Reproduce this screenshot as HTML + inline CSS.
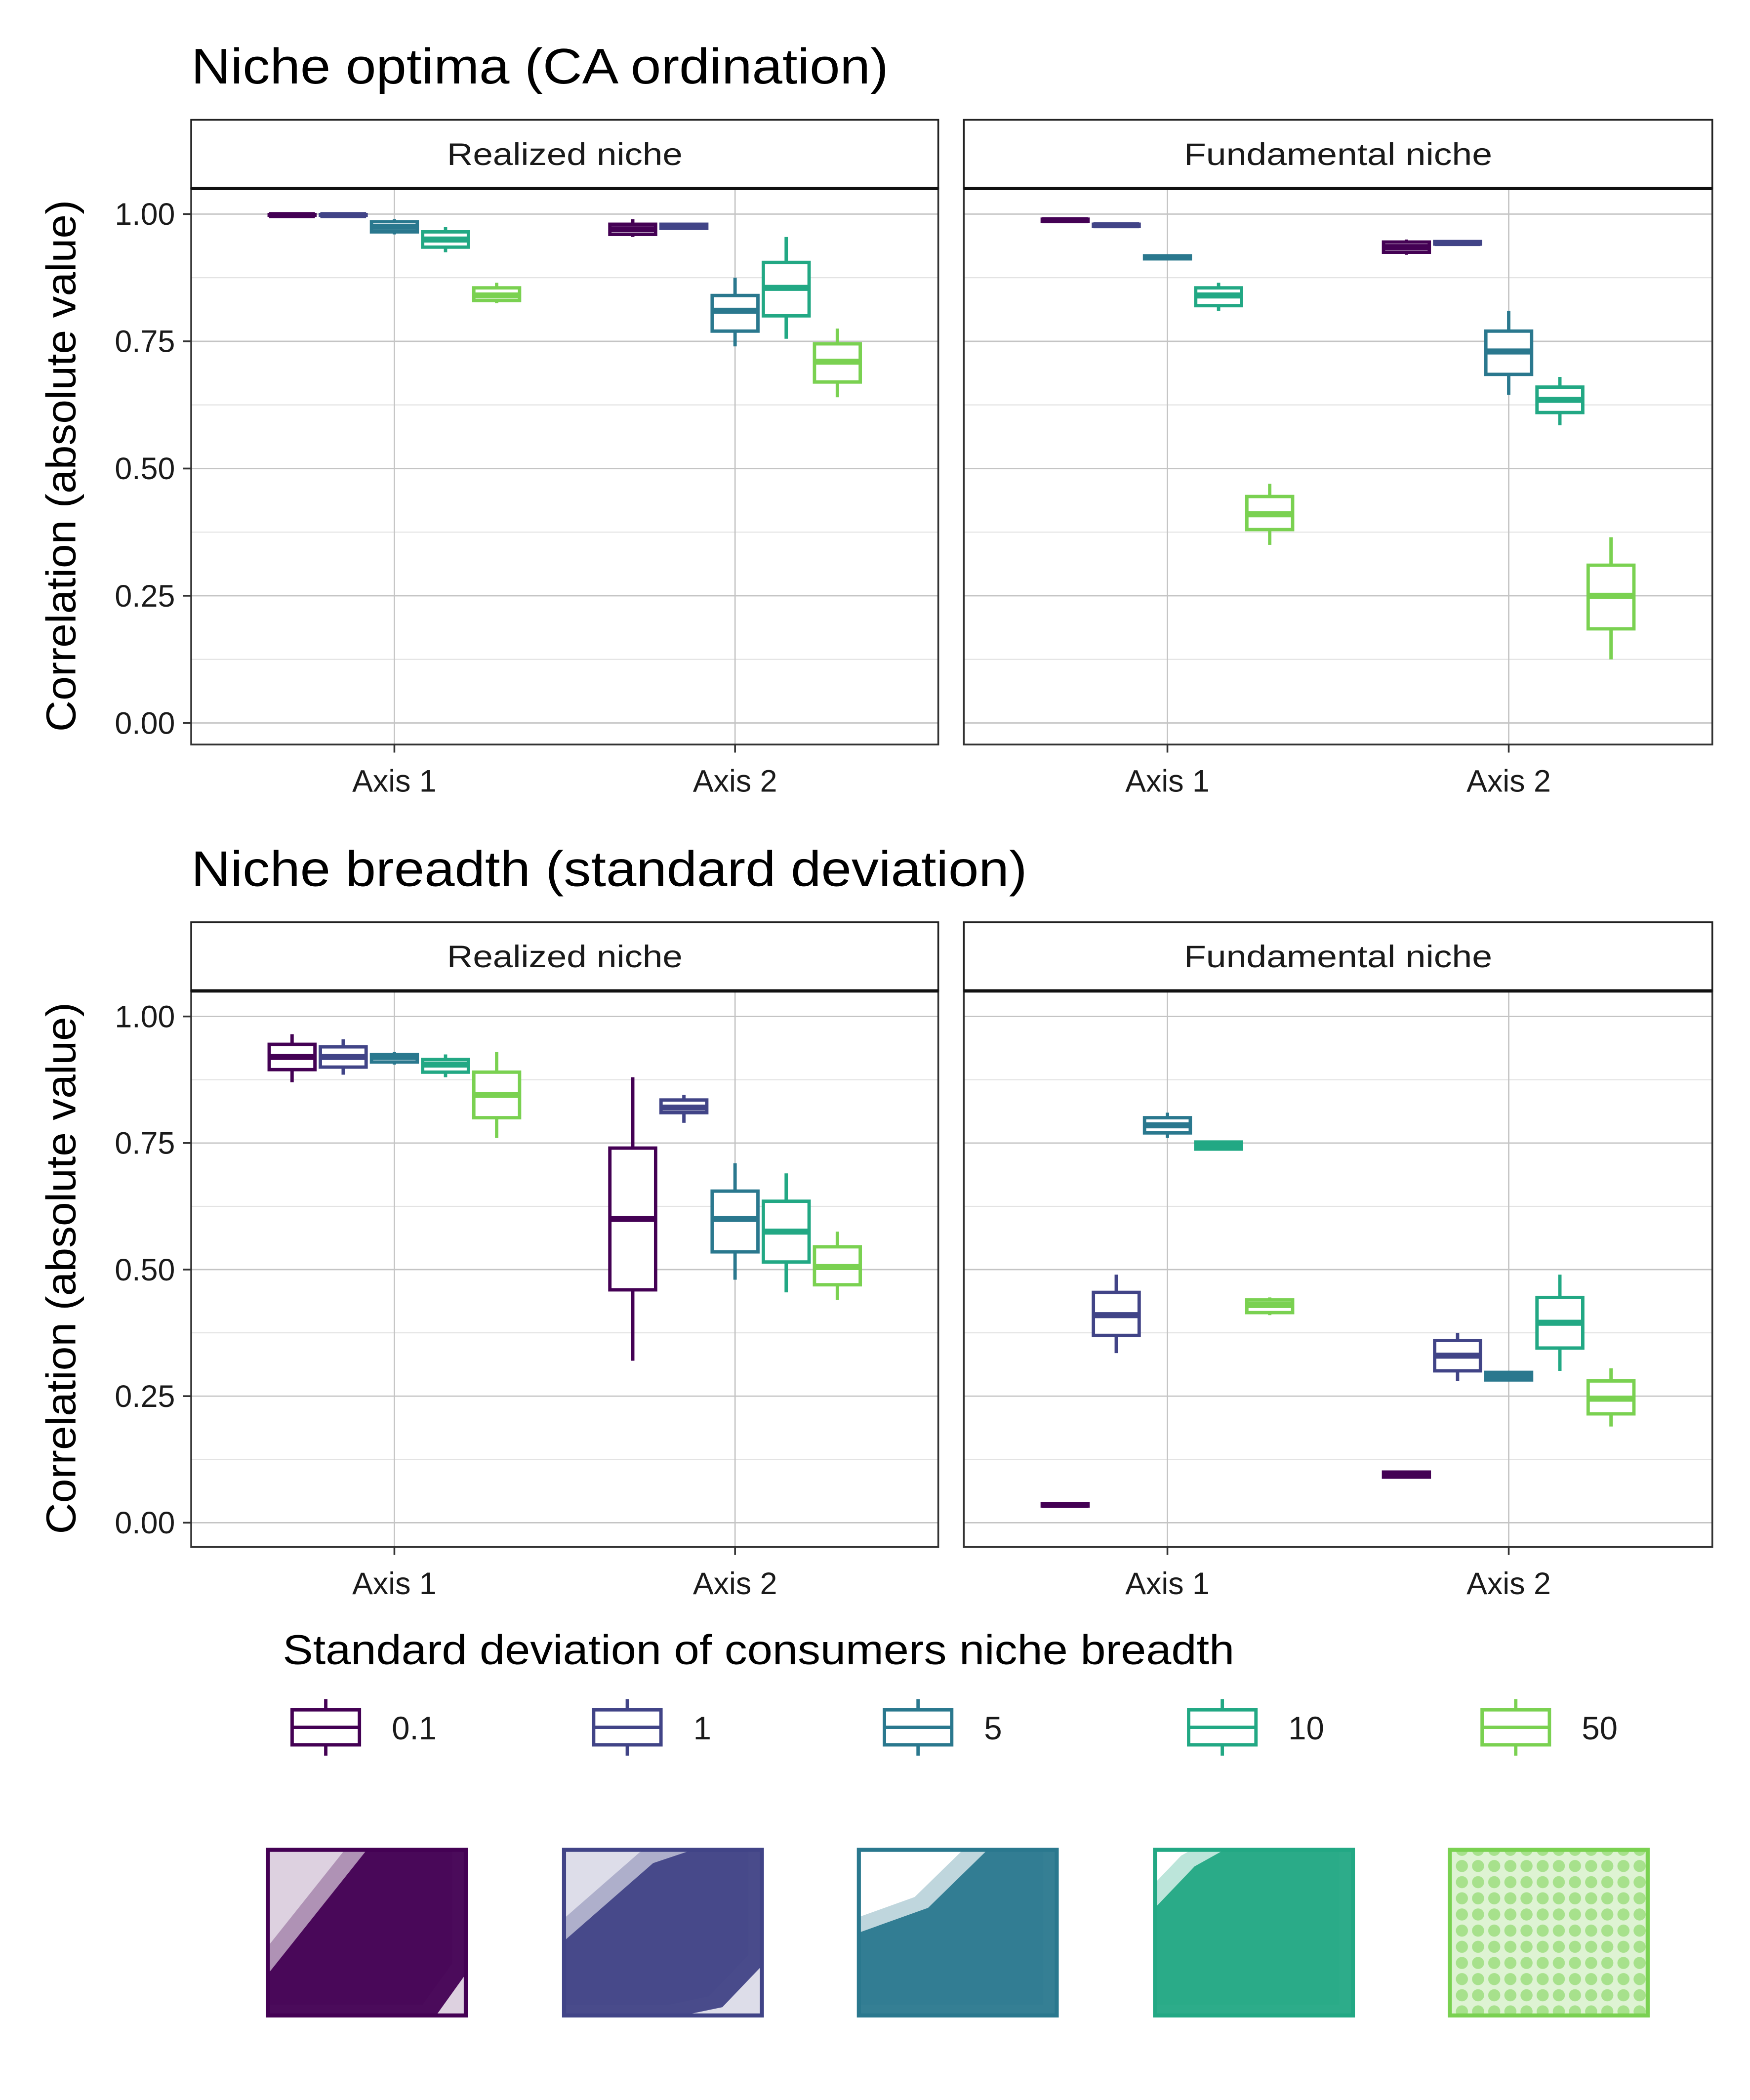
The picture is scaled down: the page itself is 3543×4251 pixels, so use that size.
<!DOCTYPE html>
<html><head><meta charset="utf-8"><style>html,body{margin:0;padding:0;background:#fff}svg{display:block}text{font-family:"Liberation Sans",Arial,sans-serif}</style></head>
<body>
<svg id="chart" xmlns="http://www.w3.org/2000/svg" width="3543" height="4251" viewBox="0 0 1300 1559.8">
<defs>
<pattern id="dots50" x="0" y="0" width="12" height="12" patternUnits="userSpaceOnUse"><circle cx="6" cy="6" r="4.5" fill="#7AD151" opacity="0.55"/></pattern>
</defs>
<rect width="1300" height="1560" fill="#fff"/>
</svg>
<script>
const categories = ["Axis 1","Axis 2"];
const groups = ["0.1","1","5","10","50"];
const colors = ["#440154","#414487","#2A788E","#22A884","#7AD151"];
const yTicks = [0,0.25,0.5,0.75,1.0];
const yTickLabels = ["0.00","0.25","0.50","0.75","1.00"];
// each: [lowWhisker,q1,median,q3,highWhisker] per group, per axis
const optimaRealizedAxis1 = [[.997,.998,.998,.999,1],[.997,.998,.998,.999,1],[.96,.965,.975,.985,.99],[.925,.935,.95,.965,.975],[.825,.83,.84,.855,.865]];
const optimaRealizedAxis2 = [[.955,.96,.97,.98,.99],[.97,.972,.975,.98,.982],[.74,.77,.81,.84,.875],[.755,.8,.855,.905,.955],[.64,.67,.71,.745,.775]];
const optimaFundAxis1 = [[.985,.986,.988,.99,.991],[.975,.976,.978,.98,.981],[.91,.912,.915,.918,.92],[.81,.82,.84,.855,.865],[.35,.38,.41,.445,.47]];
const optimaFundAxis2 = [[.92,.925,.935,.945,.95],[.94,.941,.943,.946,.947],[.645,.685,.73,.77,.81],[.585,.61,.635,.66,.68],[.125,.185,.25,.31,.365]];
const breadthRealizedAxis1 = [[.87,.895,.92,.945,.965],[.885,.9,.92,.94,.955],[.905,.91,.92,.925,.93],[.88,.89,.905,.915,.925],[.76,.8,.845,.89,.93]];
const breadthRealizedAxis2 = [[.32,.46,.6,.74,.88],[.79,.81,.82,.835,.845],[.48,.535,.6,.655,.71],[.455,.515,.575,.635,.69],[.44,.47,.505,.545,.575]];
const breadthFundAxis1 = [[.032,.033,.035,.038,.04],[.335,.37,.41,.455,.49],[.76,.77,.785,.8,.81],[.735,.738,.745,.752,.755],[.41,.415,.43,.44,.445]];
const breadthFundAxis2 = [[.09,.09,.095,.1,.1],[.28,.3,.33,.36,.375],[.28,.282,.29,.297,.3],[.3,.345,.395,.445,.49],[.19,.215,.245,.28,.305]];

const svg = document.getElementById('chart');
const NS = "http://www.w3.org/2000/svg";
function el(tag, attrs, parent, text){
  const e = document.createElementNS(NS, tag);
  for (const k in attrs) e.setAttribute(k, attrs[k]);
  if (text !== undefined) e.textContent = text;
  (parent||svg).appendChild(e); return e;
}
function panel(x0, x1, stripTop, top, bottom, y1, y0, label, dataA1, dataA2, name){
  const g = el('g', {});  
  const yS = v => y0 + (y1 - y0) * v;
  const w = x1 - x0;
  const xc = [x0 + w*0.272, x0 + w*0.728];
  for (let v=-0.125; v<=1.13; v+=0.25){ const y=yS(v); if(y>top&&y<bottom) el('line',{x1:x0,x2:x1,y1:y,y2:y,stroke:'#e3e3e3','stroke-width':0.8},g); }
  yTicks.forEach(v=>{ const y=yS(v); el('line',{x1:x0,x2:x1,y1:y,y2:y,stroke:'#c4c4c4','stroke-width':1},g); });
  xc.forEach(x=>el('line',{x1:x,x2:x,y1:top,y2:bottom,stroke:'#c4c4c4','stroke-width':1},g));
  [dataA1, dataA2].forEach((data, ci)=>{
    data.forEach((d, gi)=>{
      const cx = xc[ci] + (gi-2)*38, hw = 17, col = colors[gi];
      const b = el('g',{},g);
      
      
      el('line',{x1:cx,x2:cx,y1:yS(d[0]),y2:yS(d[1]),stroke:col,'stroke-width':2.5},b);
      el('line',{x1:cx,x2:cx,y1:yS(d[3]),y2:yS(d[4]),stroke:col,'stroke-width':2.5},b);
      el('rect',{x:cx-hw,y:yS(d[3]),width:2*hw,height:Math.max(0.5,yS(d[1])-yS(d[3])),fill:'#fff',stroke:col,'stroke-width':2.5},b);
      el('line',{x1:cx-hw,x2:cx+hw,y1:yS(d[2]),y2:yS(d[2]),stroke:col,'stroke-width':4.5},b);
    });
  });
  el('rect',{x:x0,y:top,width:w,height:bottom-top,fill:'none',stroke:'#333','stroke-width':1.3},g);
  const s = el('g',{},g);  
  el('rect',{x:x0,y:stripTop,width:w,height:top-stripTop,fill:'#fff',stroke:'#222','stroke-width':1.3},s);
  el('line',{x1:x0,x2:x1,y1:top,y2:top,stroke:'#111','stroke-width':2.5},s);
  const tl = label.length>15 ? 229 : 175;
  el('text',{x:(x0+x1)/2,y:(stripTop+top)/2+8,'text-anchor':'middle','font-size':23,fill:'#1a1a1a',textLength:tl,lengthAdjust:'spacingAndGlyphs'},s,label);
  xc.forEach((x,i)=>{
    el('line',{x1:x,x2:x,y1:bottom,y2:bottom+6,stroke:'#333','stroke-width':1.3},g);
    const t=el('text',{x:x,y:bottom+35,'text-anchor':'middle','font-size':23,fill:'#1a1a1a'},g,categories[i]);
     
  });
  return yS;
}
function yAxis(x0, y1, y0, mid){
  const yS = v => y0 + (y1 - y0) * v;
  yTicks.forEach((v,i)=>{
    const y=yS(v);
    el('line',{x1:x0-6,x2:x0,y1:y,y2:y,stroke:'#333','stroke-width':1.3});
    const t=el('text',{x:x0-12,y:y+8,'text-anchor':'end','font-size':23,fill:'#1a1a1a'},svg,yTickLabels[i]);
     
  });
  const t=el('text',{x:0,y:0,transform:`translate(56 ${mid}) rotate(-90)`,'text-anchor':'middle','font-size':31,fill:'#000',textLength:395,lengthAdjust:'spacingAndGlyphs'},svg,'Correlation (absolute value)');
   
}
let t;
t=el('text',{x:142,y:62,'font-size':37,fill:'#000',textLength:518,lengthAdjust:'spacingAndGlyphs'},svg,'Niche optima (CA ordination)');
 
panel(142,697,89,140,553,159,537,'Realized niche',optimaRealizedAxis1,optimaRealizedAxis2,'panel-optima-realized');
panel(716,1272,89,140,553,159,537,'Fundamental niche',optimaFundAxis1,optimaFundAxis2,'panel-optima-fundamental');
yAxis(142,159,537,346);
t=el('text',{x:142,y:658,'font-size':37,fill:'#000',textLength:621,lengthAdjust:'spacingAndGlyphs'},svg,'Niche breadth (standard deviation)');
 
panel(142,697,685,736,1149,755,1131,'Realized niche',breadthRealizedAxis1,breadthRealizedAxis2,'panel-breadth-realized');
panel(716,1272,685,736,1149,755,1131,'Fundamental niche',breadthFundAxis1,breadthFundAxis2,'panel-breadth-fundamental');
yAxis(142,755,1131,942);
t=el('text',{x:210,y:1236,'font-size':31,fill:'#000',textLength:707,lengthAdjust:'spacingAndGlyphs'},svg,'Standard deviation of consumers niche breadth');
 
const keyX = [217,441,657,883,1101];
const thumbX = [199,419,638,858,1077];
groups.forEach((gname,i)=>{
  const g=el('g',{});  
  const x=keyX[i], c=colors[i];
  el('line',{x1:x+25,x2:x+25,y1:1262,y2:1304,stroke:c,'stroke-width':2.5},g);
  el('rect',{x:x,y:1270,width:50,height:26,fill:'#fff',stroke:c,'stroke-width':2.5},g);
  el('line',{x1:x,x2:x+50,y1:1283,y2:1283,stroke:c,'stroke-width':2.5},g);
  el('text',{x:x+74,y:1292,'font-size':24,fill:'#1a1a1a'},g,gname);
  const th=el('g',{});  
  const tx=thumbX[i], ty=1374, tw=147, tht=123;
  const cp='cp'+i; const cl=el('clipPath',{id:cp},th); el('rect',{x:tx,y:ty,width:tw,height:tht},cl);
  const inner=el('g',{'clip-path':`url(#${cp})`},th);
  el('rect',{x:tx,y:ty,width:tw,height:tht,fill:'#fff'},inner);
  if(i<4){
    const P = [
      [[0,0.75],[0.5,0],[1,0],[1,0.75],[0.85,1],[0,1]],
      [[0,0.55],[0.45,0.08],[0.65,0],[1,0],[1,0.7],[0.8,0.95],[0.6,1],[0,1]],
      [[0,0.5],[0.35,0.35],[0.65,0],[1,0],[1,1],[0,1]],
      [[0,0.35],[0.2,0.1],[0.35,0],[1,0],[1,1],[0,1]]
    ][i];
    const pts = s => P.map(p=>`${tx+tw*p[0]*s+(1-s)*tw*0.5},${ty+tht*p[1]}`).join(' ');
    el('polygon',{points:P.map(p=>`${tx+tw*p[0]-10},${ty+tht*p[1]-8}`).join(' '),fill:c,opacity:0.3},inner);
    el('polygon',{points:P.map(p=>`${tx+tw*p[0]},${ty+tht*p[1]}`).join(' '),fill:c,opacity:0.95},inner);
    if(i<2){ el('rect',{x:tx,y:ty,width:tw,height:tht,fill:c,opacity:0.18},inner); }
  } else {
    el('rect',{x:tx,y:ty,width:tw,height:tht,fill:c,opacity:0.25},inner);
    el('rect',{x:tx,y:ty,width:tw,height:tht,fill:'url(#dots50)'},inner);
  }
  el('rect',{x:tx,y:ty,width:tw,height:tht,fill:'none',stroke:c,'stroke-width':3},th);
});
</script>
</body></html>
